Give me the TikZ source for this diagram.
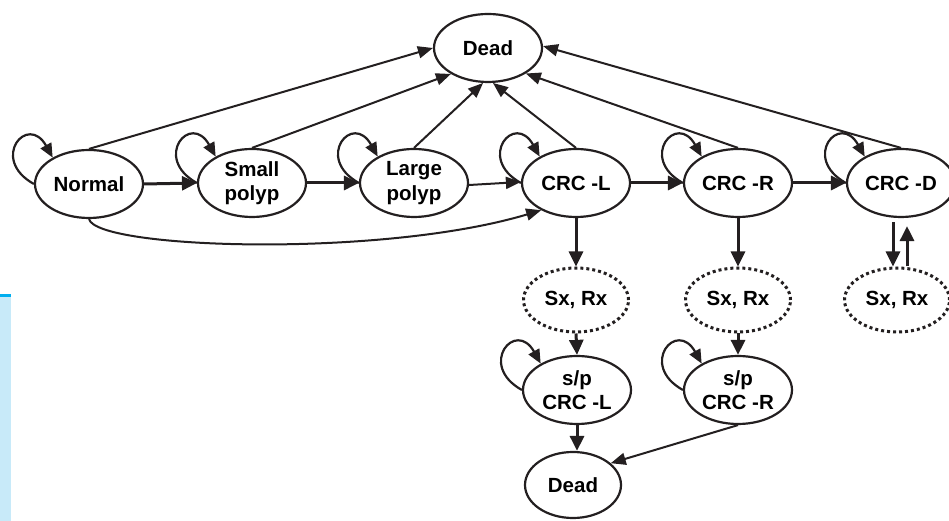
\documentclass[tikz,border=0pt]{standalone}
\usepackage{fontspec}
\setmainfont{Liberation Sans}
\usetikzlibrary{arrows.meta,shapes.geometric}
\definecolor{ink}{HTML}{231F20}
\definecolor{lightblue}{HTML}{C8EAF9}
\definecolor{cyanbar}{HTML}{00AEEF}
\begin{document}
\begin{tikzpicture}[x=1pt,y=1pt,
  state/.style={ellipse,draw=ink,line width=2.2pt,minimum width=108pt,minimum height=68pt,
    inner sep=0pt,align=center,font=\fontsize{20.5}{24.5}\selectfont\bfseries,text=black},
  treat/.style={state,line width=3pt,dash pattern=on 3pt off 3pt,minimum width=105pt,minimum height=64pt},
  arr/.style={line width=2pt,draw=ink,-{Triangle[length=15pt,width=12pt]}},
  thickarr/.style={line width=3pt,draw=ink,-{Triangle[length=15pt,width=14pt]}},
  loopa/.style={line width=2.2pt,draw=ink,-{Triangle[length=14pt,width=12pt]}}
]
\useasboundingbox (0,0) rectangle (949,521);
\fill[lightblue] (0,0) rectangle (11,224);
\fill[cyanbar] (0,224) rectangle (11,227);

\node[state] (deadT) at (488,473) {Dead};
\node[state] (normal) at (89,337) {Normal};
\node[state] (small) at (252,338) {Small\\polyp};
\node[state] (large) at (414,338) {Large\\polyp};
\node[state] (crcL) at (576,338) {CRC -L};
\node[state] (crcR) at (738,338) {CRC -R};
\node[state] (crcD) at (901,338) {CRC -D};
\node[treat] (sxL) at (576,221) {Sx, Rx};
\node[treat] (sxR) at (738,221) {Sx, Rx};
\node[treat] (sxD) at (897,221) {Sx, Rx};
\node[state] (spL) at (577,131) {s/p\\CRC -L};
\node[state] (spR) at (738,131) {s/p\\CRC -R};
\node[state,minimum width=96pt,minimum height=66pt] (deadB) at (573,36) {Dead};

% horizontal progression
\draw[thickarr] (normal.east) -- (small.west);
\draw[thickarr] (small.east) -- (large.west);
\draw[arr] ([yshift=-2pt]large.east) -- ([yshift=1pt]crcL.west);
\draw[thickarr] (crcL.east) -- (crcR.west);
\draw[thickarr] (crcR.east) -- (crcD.west);

% to Dead (top)
\draw[arr] (normal.north) -- (deadT.180);
\draw[arr] (small.north) -- (deadT.215);
\draw[arr] (large.north) -- (deadT.262);
\draw[arr] (crcL.north) -- (deadT.278);
\draw[arr] (crcR.north) -- (deadT.326);
\draw[arr] (crcD.north) -- (deadT.2);

% Normal to CRC-L
\draw[arr] (normal.south) .. controls +(8,-30) and +(-160,-48) .. (crcL.218);

% vertical
\draw[thickarr] (crcL.south) -- (sxL.north);
\draw[thickarr] (crcR.south) -- (sxR.north);
\draw[thickarr] (sxL.south) -- (spL.north);
\draw[thickarr] (sxR.south) -- (spR.north);
\draw[thickarr] (spL.south) -- (spL.south |- deadB.north);
\draw[arr] (spR.south) -- (deadB.30);

% CRC-D <-> Sx,Rx
\coordinate (dA) at ([xshift=-8pt]crcD.south);
\coordinate (dB) at ([xshift=6pt]crcD.south);
\draw[thickarr,shorten <=4pt] (dA) -- (dA |- sxD.north);
\draw[thickarr,shorten >=8pt] (dB |- sxD.north) -- (dB);

% self loops
\foreach \n in {normal,small,large,crcL,crcR,crcD,spL,spR}
  \draw[loopa] (\n.180) .. controls +(-45,25) and +(-25,45) .. (\n.144);
\end{tikzpicture}
\end{document}
